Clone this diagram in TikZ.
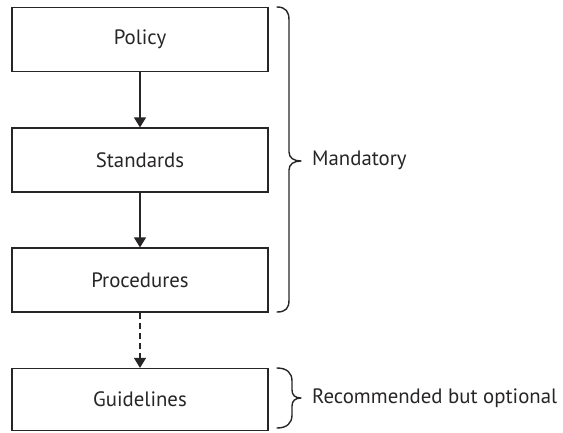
\documentclass[tikz,border=0pt]{standalone}
\usepackage{fontspec}
\setmainfont{PT Sans}
\usetikzlibrary{arrows.meta}
\definecolor{ink}{RGB}{40,37,38}
\begin{document}
\begin{tikzpicture}[x=1pt,y=-1pt,
  every node/.style={text=ink, font=\fontsize{20.8}{24}\selectfont},
  docbox/.style={draw=ink, line width=1.2pt, minimum width=256pt, minimum height=64pt, inner sep=0pt},
  flow/.style={draw=ink, line width=1.2pt, -{Triangle[width=12pt,length=10pt]}},
  bracket/.style={draw=ink, line width=1.4pt, line cap=round, line join=round},
  tag/.style={anchor=west, inner sep=0pt}]
\useasboundingbox (0,0) rectangle (563,432);

% document hierarchy
\node[docbox] (policy)     at (140,39.5) {Policy};
\node[docbox] (standards)  at (140,160)  {Standards};
\node[docbox] (procedures) at (140,280)  {Procedures};
\node[docbox, minimum height=62pt] (guidelines) at (140,399.5) {Guidelines};

\draw[flow] (policy) -- (standards);
\draw[flow] (standards) -- (procedures);
\draw[flow, dash pattern=on 6pt off 4pt] (procedures) -- (guidelines);

% brace over the mandatory documents
\draw[bracket] (277,7) .. controls (286,7) and (289,12) .. (289,20)
  -- (289,152) .. controls (289,158) and (294,161) .. (301,161)
  .. controls (294,161) and (289,164) .. (289,170)
  -- (289,300) .. controls (289,308) and (286,312) .. (277,312);
\node[tag] (mandatory) at (312,160) {Mandatory};

% brace for the optional document
\draw[bracket] (277,368) .. controls (287,368) and (292,373) .. (292,381)
  -- (292,390) .. controls (292,395) and (295,398) .. (301,398)
  .. controls (295,398) and (292,401) .. (292,406)
  -- (292,415) .. controls (292,423) and (287,428) .. (277,428);
\node[tag] (optional) at (312,398) {Recommended but optional};
\end{tikzpicture}
\end{document}
